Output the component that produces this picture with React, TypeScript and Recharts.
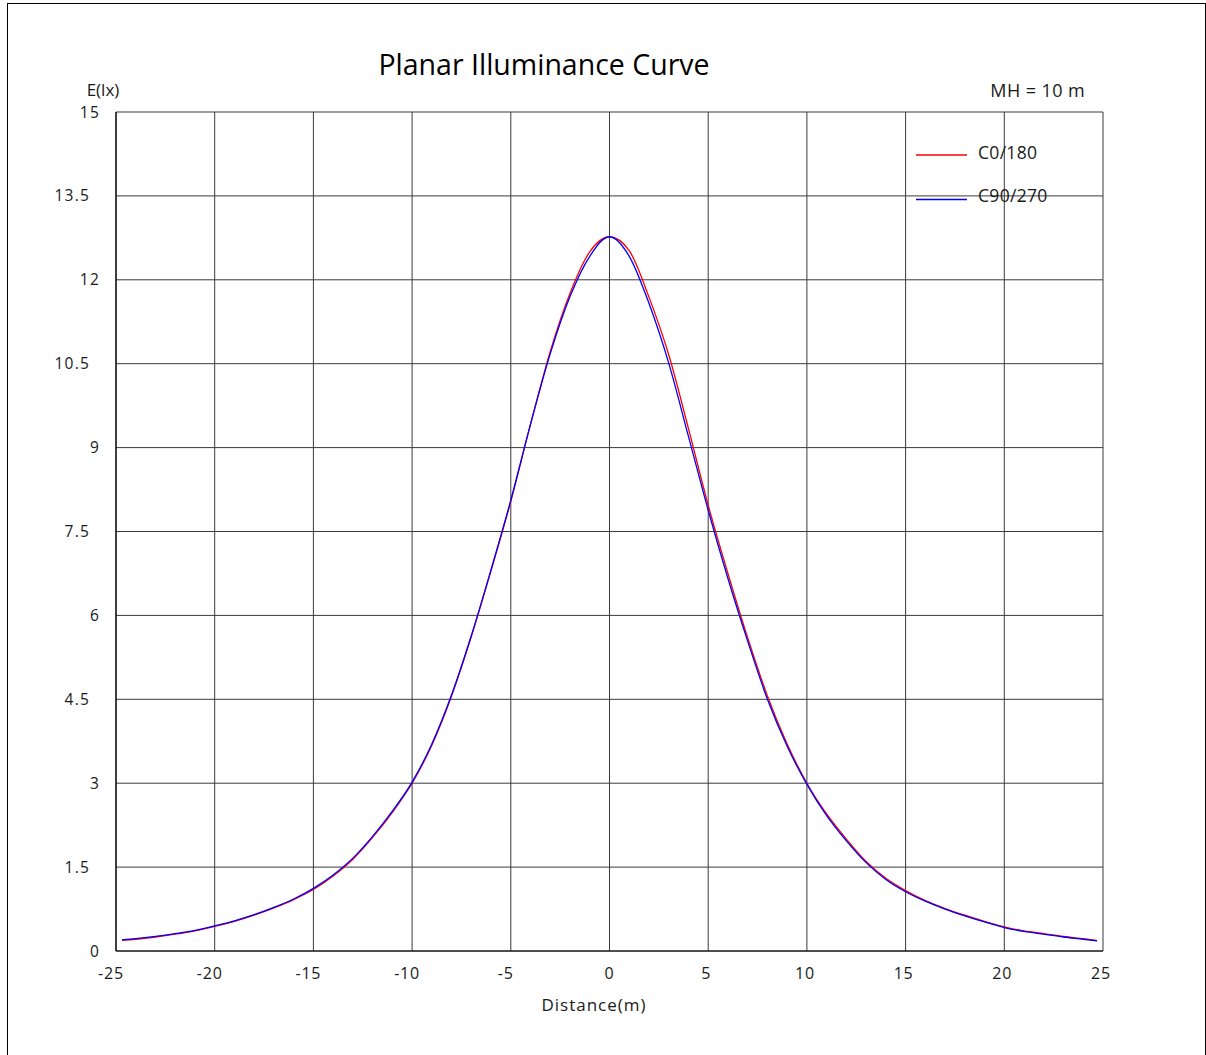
import React from 'react';
import { LineChart, Line, XAxis, YAxis, CartesianGrid } from 'recharts';

const distances = [
  -24.7, -24, -23, -22, -21, -20, -19, -18, -17, -16, -15, -14, -13, -12, -11, -10, -9, -8, -7, -6, -5, -4, -3, -2, -1,
  0, 1, 2, 3, 4, 5, 6, 7, 8, 9, 10, 11, 12, 13, 14, 15, 16, 17, 18, 19, 20, 21, 22, 23, 24, 24.7,
];
const c0_180 = [
  0.19, 0.21, 0.25, 0.3, 0.36, 0.44, 0.53, 0.64, 0.77, 0.92, 1.1, 1.34, 1.64, 2.03, 2.48, 3.0, 3.68, 4.56, 5.62, 6.8, 8.04, 9.42, 10.72, 11.76, 12.5,
  12.77, 12.52, 11.69, 10.66, 9.34, 7.97, 6.75, 5.6, 4.56, 3.7, 3.0, 2.45, 2.0, 1.6, 1.3, 1.08, 0.9, 0.76, 0.64, 0.53, 0.43, 0.36, 0.31, 0.26, 0.22, 0.19,
];
const c90_270 = [
  0.2, 0.22, 0.26, 0.31, 0.37, 0.45, 0.54, 0.65, 0.78, 0.93, 1.12, 1.36, 1.66, 2.05, 2.5, 3.02, 3.7, 4.58, 5.64, 6.82, 8.06, 9.42, 10.68, 11.7, 12.42,
  12.77, 12.42, 11.58, 10.51, 9.2, 7.88, 6.66, 5.54, 4.5, 3.66, 2.98, 2.42, 1.97, 1.58, 1.28, 1.06, 0.89, 0.75, 0.63, 0.52, 0.42, 0.35, 0.3, 0.25, 0.21, 0.18,
];
const xTicks = [-25, -20, -15, -10, -5, 0, 5, 10, 15, 20, 25];
const yTicks = [0, 1.5, 3, 4.5, 6, 7.5, 9, 10.5, 12, 13.5, 15];

const data = distances.map((d, i) => ({ d, c0: c0_180[i], c90: c90_270[i] }));

const font = '"Open Sans", sans-serif';
const ink = '#1a1a1a';

// whole numbers sit flush at the axis, decimals end a bit further left
const YTick = (props: any) => {
  const { x, y, payload } = props;
  const v = payload.value;
  const shift = Number.isInteger(v) ? 0 : 10;
  return (
    <text x={x - shift} y={y} dy="0.355em" textAnchor="end" fontFamily={font} fontSize={15.5} letterSpacing={1.2} fill={ink}>
      {v}
    </text>
  );
};

// the minus sign hangs out to the left of the gridline
const XTick = (props: any) => {
  const { x, y, payload } = props;
  const v = payload.value;
  const shift = v < 0 ? 5 : v > 0 ? 2 : 0;
  return (
    <text x={x - shift} y={y} dy="0.71em" textAnchor="middle" fontFamily={font} fontSize={16} letterSpacing={0.8} fill={ink}>
      {v}
    </text>
  );
};

export default function App() {
  return (
    <div style={{ position: 'absolute', left: 0, top: 0, width: 1206, height: 1055, overflow: 'hidden', background: '#fff' }}>
      <div style={{
        position: 'absolute', left: 7, top: 3, width: 1197, height: 1070,
        border: '1px solid #000',
      }} />
      <div style={{ position: 'absolute', left: 0, top: 0 }}>
        <LineChart width={1206} height={1055} data={data}
          margin={{ top: 112, right: 103, left: 56, bottom: 74 }}>
          <CartesianGrid stroke="#3a3a3a" strokeWidth={1} />
          <XAxis dataKey="d" type="number" domain={[-25, 25]} ticks={xTicks} allowDataOverflow
            height={30} tickSize={0} tickMargin={17} interval={0}
            axisLine={{ stroke: '#000', strokeWidth: 1.2 }}
            tick={<XTick />} />
          <YAxis type="number" domain={[0, 15]} ticks={yTicks} allowDataOverflow
            width={60} tickSize={0} tickMargin={16} interval={0}
            axisLine={{ stroke: '#000', strokeWidth: 1.2 }}
            tick={<YTick />} />
          <Line dataKey="c0" type="monotone" stroke="#ff0000" strokeWidth={1.3} dot={false} isAnimationActive={false} />
          <Line dataKey="c90" type="monotone" stroke="#0000ff" strokeWidth={1.3} dot={false} isAnimationActive={false} />
        </LineChart>
      </div>
      <svg width={1206} height={1055} style={{ position: 'absolute', left: 0, top: 0, pointerEvents: 'none' }}>
        <text x={544} y={75} textAnchor="middle" fontFamily={font} fontSize={28.5} fill="#000">Planar Illuminance Curve</text>
        <text x={103} y={96} textAnchor="middle" fontFamily={font} fontSize={17} fill={ink}>E(lx)</text>
        <text x={1085} y={96.5} textAnchor="end" fontFamily={font} fontSize={18} letterSpacing={0.4} fill={ink}>MH = 10 m</text>
        <text x={594} y={1011} textAnchor="middle" fontFamily={font} fontSize={17} letterSpacing={1} fill={ink}>Distance(m)</text>
        <line x1={916} x2={967} y1={155} y2={155} stroke="#ff0000" strokeWidth={1.3} />
        <text x={978} y={158.5} fontFamily={font} fontSize={17.5} letterSpacing={0.3} fill={ink}>C0/180</text>
        <line x1={916} x2={967} y1={199.5} y2={199.5} stroke="#0000ff" strokeWidth={1.5} />
        <text x={978} y={201.5} fontFamily={font} fontSize={17.5} letterSpacing={0.3} fill={ink}>C90/270</text>
      </svg>
    </div>
  );
}
